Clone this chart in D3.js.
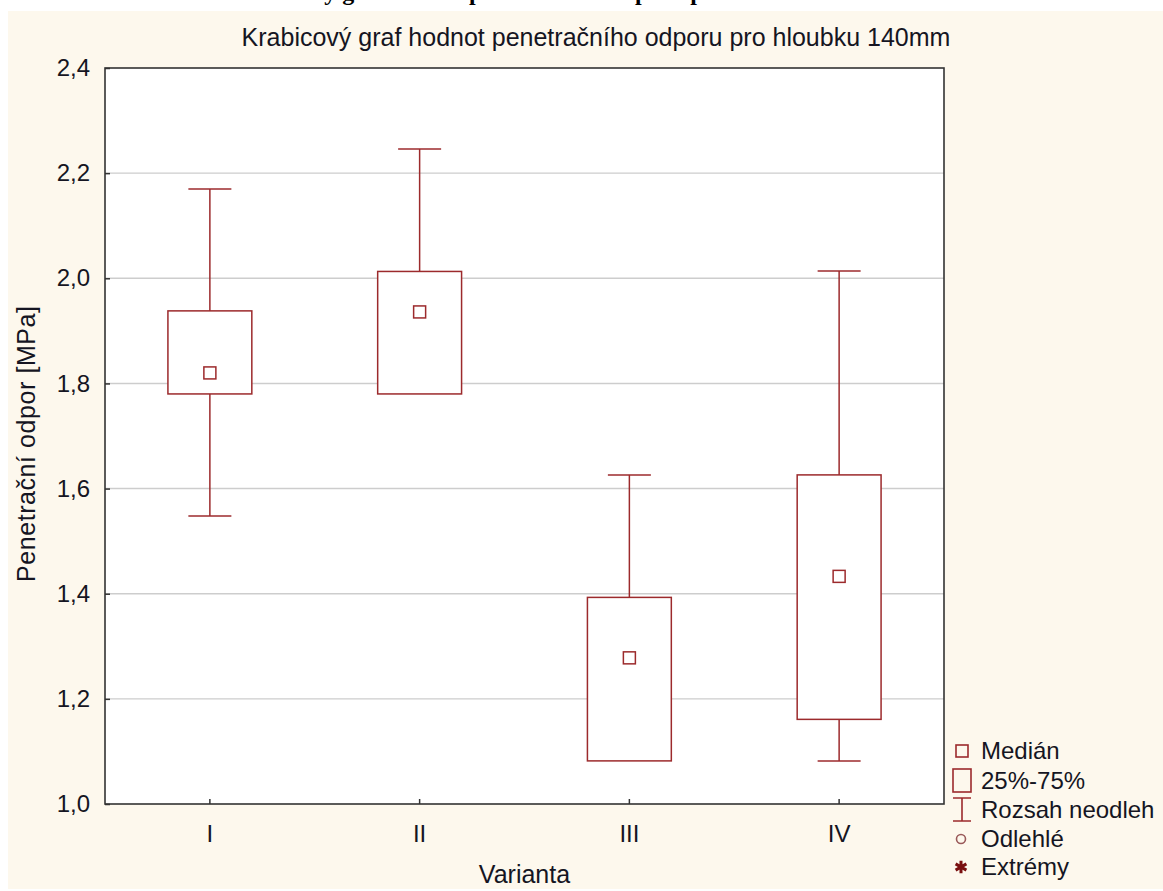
<!DOCTYPE html>
<html>
<head>
<meta charset="utf-8">
<script src="https://cdn.jsdelivr.net/npm/d3@7"></script>
<style>
  body { margin: 0; background: #fff; }
  text { font-family: "Liberation Sans", Arial, sans-serif; fill: #151522; }
</style>
</head>
<body>
<div id="chart"></div>
<script>
//begin: data
const variants = ["I", "II", "III", "IV"];
const mins    = [1.548, 1.780, 1.082, 1.082];
const q1s     = [1.780, 1.780, 1.082, 1.161];
const medians = [1.820, 1.936, 1.278, 1.433];
const q3s     = [1.938, 2.013, 1.393, 1.626];
const maxs    = [2.170, 2.246, 1.626, 2.014];
const yTicks  = [1.0, 1.2, 1.4, 1.6, 1.8, 2.0, 2.2, 2.4];
const legendLabels = ["Medián", "25%-75%", "Rozsah neodleh", "Odlehlé", "Extrémy"];
const chartTitle = "Krabicový graf hodnot penetračního odporu pro hloubku 140mm";
//end: data

const W = 1163, H = 891;
const plot = { left: 105, right: 944, top: 68, bottom: 804 };
const red = "#9c2a2c";

const boxes = variants.map((v, i) => ({
  name: v, min: mins[i], q1: q1s[i], med: medians[i], q3: q3s[i], max: maxs[i]
}));

const svg = d3.select("#chart").append("svg")
  .attr("width", W).attr("height", H);

// document caption above the panel, only its descenders show (as in the scan)
const caption = svg.append("text")
  .attr("y", 0)
  .style("font-family", "'Liberation Serif', 'Times New Roman', serif")
  .style("font-weight", "bold")
  .style("font-size", "24px")
  .style("fill", "#000")
  .text(chartTitle);
const pIdx = chartTitle.indexOf("penetra");
const pOff = caption.node().getSubStringLength(0, pIdx);
caption.attr("x", 469 - pOff);

// panel background
svg.append("rect")
  .attr("x", 8).attr("y", 11)
  .attr("width", W - 8).attr("height", 878)
  .attr("fill", "#fdf8ed");

svg.append("rect")
  .attr("x", plot.left).attr("y", plot.top)
  .attr("width", plot.right - plot.left).attr("height", plot.bottom - plot.top)
  .attr("fill", "#fff");

var y = d3.scaleLinear().domain([1.0, 2.4]).range([plot.bottom, plot.top]);
var x = d3.scaleBand().domain(variants).range([plot.left, plot.right]).padding(0);
const fmt = d => d3.format(".1f")(d).replace(".", ",");

// gridlines
svg.append("g").selectAll("line")
  .data(yTicks.slice(1, -1))
  .enter().append("line")
  .attr("x1", plot.left).attr("x2", plot.right)
  .attr("y1", d => y(d)).attr("y2", d => y(d))
  .attr("stroke", "#cdcdcd").attr("stroke-width", 1.4);

// axes
var yAxis = svg.append("g")
  .attr("transform", "translate(" + plot.left + ",0)")
  .call(d3.axisLeft(y).tickValues(yTicks).tickFormat(fmt)
    .tickSizeInner(-5).tickSizeOuter(0).tickPadding(15));
var xAxis = svg.append("g")
  .attr("transform", "translate(0," + plot.bottom + ")")
  .call(d3.axisBottom(x).tickSizeInner(-5).tickSizeOuter(0).tickPadding(21));
[yAxis, xAxis].forEach(a => {
  a.select(".domain").remove();
  a.selectAll(".tick line").attr("stroke", "#333").attr("stroke-width", 1.5);
  a.selectAll("text").style("font-size", "24px").style("font-family", "'Liberation Sans', Arial, sans-serif").attr("fill", "#151522");
});

// boxes
const bw = x.bandwidth() * 0.4, cw = x.bandwidth() * 0.205, ms = 12;
var g = svg.append("g").selectAll(".box")
  .data(boxes).enter().append("g").classed("box", true)
  .attr("transform", d => "translate(" + (x(d.name) + x.bandwidth() / 2) + ",0)");

g.append("line")
  .attr("y1", d => y(d.q3)).attr("y2", d => y(d.max))
  .attr("stroke", red).attr("stroke-width", 1.5);
g.append("line")
  .attr("y1", d => y(d.q1)).attr("y2", d => y(d.min))
  .attr("stroke", red).attr("stroke-width", 1.5);
g.filter(d => d.max > d.q3).append("line")
  .attr("x1", -cw / 2).attr("x2", cw / 2)
  .attr("y1", d => y(d.max)).attr("y2", d => y(d.max))
  .attr("stroke", red).attr("stroke-width", 1.5);
g.filter(d => d.min < d.q1).append("line")
  .attr("x1", -cw / 2).attr("x2", cw / 2)
  .attr("y1", d => y(d.min)).attr("y2", d => y(d.min))
  .attr("stroke", red).attr("stroke-width", 1.5);
g.append("rect")
  .attr("x", -bw / 2).attr("width", bw)
  .attr("y", d => y(d.q3)).attr("height", d => y(d.q1) - y(d.q3))
  .attr("fill", "#fff").attr("stroke", red).attr("stroke-width", 1.5);
g.append("rect")
  .attr("x", -ms / 2).attr("width", ms)
  .attr("y", d => y(d.med) - ms / 2).attr("height", ms)
  .attr("fill", "#fff").attr("stroke", red).attr("stroke-width", 1.5);

// frame
svg.append("rect")
  .attr("x", plot.left).attr("y", plot.top)
  .attr("width", plot.right - plot.left).attr("height", plot.bottom - plot.top)
  .attr("fill", "none").attr("stroke", "#333").attr("stroke-width", 1.6);

// titles
svg.append("text")
  .attr("x", 596).attr("y", 46)
  .attr("text-anchor", "middle")
  .style("font-size", "25px")
  .text(chartTitle);
svg.append("text")
  .attr("transform", "translate(35,444) rotate(-90)")
  .attr("text-anchor", "middle")
  .style("font-size", "25px")
  .attr("textLength", 276).attr("lengthAdjust", "spacing")
  .text("Penetrační odpor [MPa]");
svg.append("text")
  .attr("x", (plot.left + plot.right) / 2).attr("y", 883)
  .attr("text-anchor", "middle")
  .style("font-size", "25px")
  .text("Varianta");

// legend
var legend = svg.append("g").classed("legend", true);
var rowY = [751, 781, 810, 839, 867];
legend.selectAll("text")
  .data(legendLabels).enter().append("text")
  .attr("x", 981).attr("y", (d, i) => rowY[i])
  .attr("dy", "0.35em")
  .style("font-size", "24px")
  .text(d => d);
legend.append("rect")
  .attr("x", 956).attr("y", rowY[0] - 6).attr("width", 12).attr("height", 12)
  .attr("fill", "none").attr("stroke", red).attr("stroke-width", 1.6);
legend.append("rect")
  .attr("x", 953).attr("y", rowY[1] - 12).attr("width", 18).attr("height", 23)
  .attr("fill", "none").attr("stroke", red).attr("stroke-width", 1.6);
legend.append("path")
  .attr("d", "M953," + (rowY[2] - 12) + "H971M962," + (rowY[2] - 12) + "V" + (rowY[2] + 11) + "M953," + (rowY[2] + 11) + "H971")
  .attr("fill", "none").attr("stroke", red).attr("stroke-width", 1.6);
legend.append("circle")
  .attr("cx", 961).attr("cy", rowY[3]).attr("r", 4.5)
  .attr("fill", "none").attr("stroke", "#9a5a5a").attr("stroke-width", 1.6);
legend.append("path")
  .attr("transform", "translate(961," + rowY[4] + ")")
  .attr("d", d3.symbol(d3.symbolAsterisk, 110)())
  .attr("fill", "none").attr("stroke", "#7a1010").attr("stroke-width", 3);
</script>
</body>
</html>
